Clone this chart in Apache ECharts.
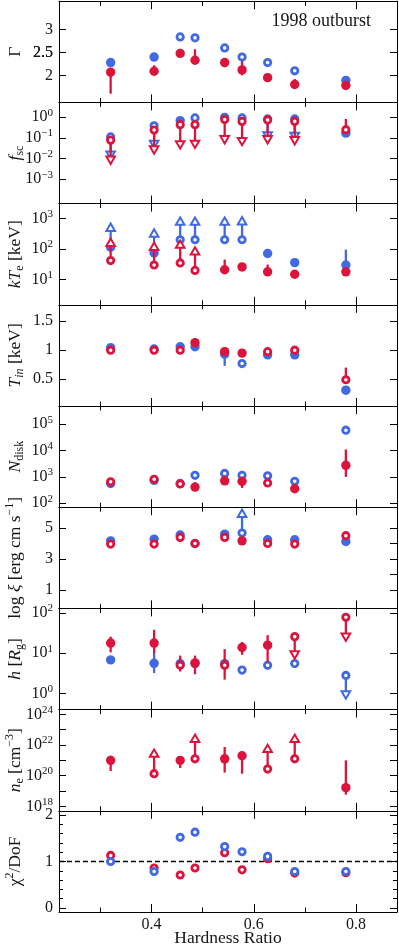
<!DOCTYPE html>
<html><head><meta charset="utf-8">
<script src="https://cdn.jsdelivr.net/npm/echarts@6/dist/echarts.min.js"></script>
<style>html,body{margin:0;padding:0;background:#fff}#c{width:399px;height:945px}</style>
</head><body><div id="c"></div>
<script>
// ---------------- data ----------------
const HR = [0.320, 0.405, 0.456, 0.485, 0.543, 0.577, 0.627, 0.680, 0.780];

// Gamma
const gammaBlue     = [2.28, 2.40, 2.84, 2.82, 2.60, 2.40, 2.28, 2.10, 1.89];
const gammaBlueOpen = [0, 0, 1, 1, 1, 1, 1, 1, 0];
const gammaRed      = [2.07, 2.09, 2.48, 2.33, 2.28, 2.12, 1.95, 1.80, 1.78];
const gammaRedLo    = [1.60, 2.02, 2.43, 2.28, 2.18, 2.00, 1.92, 1.77, 1.76];
const gammaRedHi    = [2.10, 2.22, 2.58, 2.57, 2.31, 2.31, 1.99, 1.92, 1.80];
const gammaRedOpen  = [0, 0, 0, 0, 0, 0, 0, 0, 0];

// f_sc
const fscBlue     = [0.112, 0.389, 0.69, 0.93, 1.0, 0.93, 0.83, 0.83, 0.17];
const fscBlueLim  = [0.0158, 0.052, null, null, null, null, 0.135, 0.126, null];
const fscBlueOpen = [1, 1, 0, 1, 1, 1, 1, 1, 0];
const fscRed      = [0.078, 0.24, 0.44, 0.44, 0.78, 0.63, 0.74, 0.63, 0.25];
const fscRedLim   = [0.0089, 0.028, 0.049, 0.052, 0.087, 0.071, 0.087, 0.078, null];
const fscRedLo    = [null, null, null, null, null, null, null, null, 0.21];
const fscRedHi    = [null, null, null, null, null, null, null, null, 0.83];
const fscRedOpen  = [1, 1, 1, 1, 1, 1, 1, 1, 1];

// kT_e [keV]
const kteBlue     = [115, 74, 200, 200, 200, 200, 71, 36, 30];
const kteBlueLim  = [490, 316, 776, 776, 776, 794, null, null, null];
const kteBlueHi   = [null, null, null, null, null, null, null, null, 95];
const kteBlueOpen = [0, 0, 1, 1, 1, 1, 0, 0, 0];
const kteRed      = [42, 30, 35, 20, 21, 26, 18, 15, 18];
const kteRedLim   = [158, 117, 138, 83, null, null, null, null, null];
const kteRedHi    = [null, null, null, null, 45, null, 31, null, null];
const kteRedOpen  = [1, 1, 1, 1, 0, 0, 0, 0, 0];

// T_in [keV]
const tinBlue     = [1.045, 1.02, 1.06, 1.06, 0.93, 0.77, 0.92, 0.92, 0.31];
const tinBlueLo   = [null, null, null, null, 0.73, null, null, null, null];
const tinBlueOpen = [0, 0, 0, 0, 0, 1, 0, 0, 0];
const tinRed      = [1.0, 1.0, 1.0, 1.13, 0.975, 0.95, 0.975, 1.0, 0.49];
const tinRedLo    = [null, null, null, null, null, null, null, null, 0.45];
const tinRedHi    = [null, null, null, null, 1.04, null, null, null, 0.70];
const tinRedOpen  = [1, 1, 1, 0, 0, 0, 1, 1, 1];

// N_disk
const ndBlue     = [560, 740, 560, 1150, 1350, 1150, 1100, 680, 59000];
const ndBlueHi   = [null, null, null, null, null, null, null, null, 76000];
const ndBlueOpen = [0, 0, 0, 1, 1, 1, 1, 1, 1];
const ndRed      = [650, 810, 540, 410, 710, 680, 590, 355, 2750];
const ndRedLo    = [null, null, null, null, null, 380, null, null, 1000];
const ndRedHi    = [null, null, null, 630, null, null, null, null, 11000];
const ndRedOpen  = [1, 1, 1, 0, 0, 0, 1, 0, 0];

// log xi
const xiBlue     = [4.17, 4.28, 4.54, 4.0, 4.6, 4.67, 4.24, 4.24, 4.13];
const xiBlueLim  = [null, null, null, null, null, 5.9, null, null, null];
const xiBlueOpen = [0, 0, 0, 0, 0, 1, 0, 0, 0];
const xiRed      = [3.96, 3.96, 4.39, 4.0, 4.39, 4.17, 4.0, 3.96, 4.5];
const xiRedLo    = [null, null, null, null, 4.13, null, null, null, null];
const xiRedOpen  = [1, 1, 1, 1, 1, 0, 1, 1, 1];

// h [R_g]
const hBlue     = [6.8, 5.6, 5.5, 5.5, 5.5, 3.8, 5.0, 5.5, 2.8];
const hBlueLo   = [null, 3.2, null, null, null, null, null, null, null];
const hBlueHi   = [null, 10.7, null, null, null, null, null, null, null];
const hBlueLim  = [null, null, null, null, null, null, null, null, 0.95];
const hBlueOpen = [0, 0, 0, 0, 0, 1, 1, 1, 1];
const hRed      = [17.8, 17.8, 5.0, 5.75, 5.0, 13.8, 15.8, 25.7, 77.6];
const hRedLo    = [10.5, 10.0, 3.5, 3.0, 2.2, 9.1, 6.0, null, null];
const hRedHi    = [25.7, 38, 8.7, 8.7, 12.6, 19, 28, null, null];
const hRedLim   = [null, null, null, null, null, null, null, 9.3, 25.7];
const hRedOpen  = [0, 0, 1, 0, 1, 0, 0, 1, 1];

// n_e [cm^-3]
const neRed     = [1.0e21, 1.35e20, 1.0e21, 1.26e21, 1.26e21, 2.0e21, 2.7e20, 1.26e21, 1.66e19];
const neRedLo   = [2.0e20, null, 3.2e20, null, 1.6e20, 1.35e20, null, null, 5.8e18];
const neRedHi   = [2.0e21, null, 1.4e21, null, 7.4e21, 3.2e21, null, null, 1.0e21];
const neRedLim  = [null, 2.7e21, null, 2.5e22, null, null, 5.5e21, 2.5e22, null];
const neRedOpen = [0, 1, 0, 1, 0, 0, 1, 1, 0];

// chi2 / DoF
const chiBlue = [1.0, 0.785, 1.52, 1.63, 1.32, 1.21, 1.11, 0.785, 0.785];
const chiRed  = [1.13, 0.86, 0.71, 0.86, 1.19, 0.82, 1.06, 0.75, 0.76];
const chiOpen = [1, 1, 1, 1, 1, 1, 1, 1, 1];
const chiRef  = 1;

const xMajorTicks = [0.4, 0.6, 0.8];
const xMinorTicks = [0.3, 0.5, 0.7];
const titleText = '1998 outburst';
const xName = 'Hardness Ratio';

// ---------------- styling / layout ----------------
const BLUE = '#4169E1', RED = '#DC143C';
const FONT = '"Liberation Serif", "Times New Roman", serif';
const TXT = '#151515';
const L = 59, W = 338, T0 = 1.2, H = 101.2;
const XMIN = 0.219, XMAX = 0.88;

const lin = v => v, lg = v => Math.log10(v);

const panels = [
  { tf: lin, range: [1.41, 3.62], ticks: [2, 2.5, 3], labels: [2, 2.5, 3], log: false,
    name: '{r|Γ}',
    sets: [{ color: BLUE, y: gammaBlue, open: gammaBlueOpen },
           { color: RED, y: gammaRed, lo: gammaRedLo, hi: gammaRedHi, open: gammaRedOpen }] },
  { tf: lg, range: [-4.18, 0.72], ticks: [-3, -2, -1, 0], labels: [-3, -2, -1, 0], log: true,
    name: '{i|f}{sub|sc}',
    sets: [{ color: BLUE, y: fscBlue, lim: fscBlueLim, open: fscBlueOpen },
           { color: RED, y: fscRed, lim: fscRedLim, lo: fscRedLo, hi: fscRedHi, open: fscRedOpen }] },
  { tf: lg, range: [0.18, 3.48], ticks: [1, 2, 3], labels: [1, 2, 3], log: true,
    name: '{i|kT}{sub|e}{r| [keV]}',
    sets: [{ color: BLUE, y: kteBlue, lim: kteBlueLim, hi: kteBlueHi, open: kteBlueOpen },
           { color: RED, y: kteRed, lim: kteRedLim, hi: kteRedHi, open: kteRedOpen }] },
  { tf: lin, range: [0.037, 1.784], ticks: [0.5, 1, 1.5], labels: [0.5, 1, 1.5], log: false,
    name: '{i|T}{subi|in}{r| [keV]}',
    sets: [{ color: BLUE, y: tinBlue, lo: tinBlueLo, open: tinBlueOpen },
           { color: RED, y: tinRed, lo: tinRedLo, hi: tinRedHi, open: tinRedOpen }] },
  { tf: lg, range: [1.85, 5.69], ticks: [2, 3, 4, 5], labels: [2, 3, 4, 5], log: true,
    name: '{i|N}{sub|disk}',
    sets: [{ color: BLUE, y: ndBlue, hi: ndBlueHi, open: ndBlueOpen },
           { color: RED, y: ndRed, lo: ndRedLo, hi: ndRedHi, open: ndRedOpen }] },
  { tf: lin, range: [-0.17, 6.33], ticks: [1, 2, 3, 4, 5], labels: [1, 2, 3, 4, 5], log: false,
    name: '{r|log }{i|ξ}{r| [erg cm s}{sup|−1}{r|]}',
    sets: [{ color: BLUE, y: xiBlue, lim: xiBlueLim, open: xiBlueOpen },
           { color: RED, y: xiRed, lo: xiRedLo, open: xiRedOpen }] },
  { tf: lg, range: [-0.40, 2.11], ticks: [0, 1, 2], labels: [0, 1, 2], log: true,
    name: '{i|h}{r| [}{i|R}{sub|g}{r|]}',
    sets: [{ color: BLUE, y: hBlue, lo: hBlueLo, hi: hBlueHi, lim: hBlueLim, open: hBlueOpen },
           { color: RED, y: hRed, lo: hRedLo, hi: hRedHi, lim: hRedLim, open: hRedOpen }] },
  { tf: lg, range: [17.71, 24.31], ticks: [18, 19, 20, 21, 22, 23, 24], labels: [18, 20, 22, 24], log: true,
    name: '{i|n}{sub|e}{r| [cm}{sup|−3}{r|]}',
    sets: [{ color: RED, y: neRed, lo: neRedLo, hi: neRedHi, lim: neRedLim, open: neRedOpen }] },
  { tf: lin, range: [-0.086, 2.09], ticks: [0, 1, 2], labels: [0, 1, 2], log: false,
    minor: [0.2, 0.4, 0.6, 0.8, 1.2, 1.4, 1.6, 1.8],
    name: '{r|χ}{sup|2}{r|/DoF}', ref: chiRef,
    sets: [{ color: RED, y: chiRed, open: chiOpen },
           { color: BLUE, y: chiBlue, open: chiOpen }] }
];

const tickRich = {
  b: { fontFamily: FONT, fontSize: 16, color: TXT, lineHeight: 20 },
  s: { fontFamily: FONT, fontSize: 11, color: TXT, lineHeight: 10, verticalAlign: 'top' }
};
const linRich = {
  b: { fontFamily: FONT, fontSize: 16, color: TXT, lineHeight: 14 }
};
const nameRich = {
  r:    { fontFamily: FONT, fontSize: 17.5, color: TXT, lineHeight: 22 },
  i:    { fontFamily: FONT, fontSize: 17.5, color: TXT, lineHeight: 22, fontStyle: 'italic' },
  sub:  { fontFamily: FONT, fontSize: 12, color: TXT, lineHeight: 10, verticalAlign: 'bottom' },
  subi: { fontFamily: FONT, fontSize: 12, color: TXT, lineHeight: 10, verticalAlign: 'bottom', fontStyle: 'italic' },
  sup:  { fontFamily: FONT, fontSize: 12, color: TXT, lineHeight: 10, verticalAlign: 'top' }
};

function expStr(v) { const n = Math.round(v); return n < 0 ? '−' + (-n) : String(n); }

function makeRender(set, tf) {
  const color = set.color;
  return function (params, api) {
    const i = params.dataIndex;
    const x = HR[i];
    const ch = [];
    const seg = (a, b) => {
      const p1 = api.coord([x, tf(a)]), p2 = api.coord([x, tf(b)]);
      ch.push({ type: 'line', shape: { x1: p1[0], y1: p1[1], x2: p2[0], y2: p2[1] },
                style: { stroke: color, lineWidth: 2.3 } });
    };
    if (set.lo && set.lo[i] != null) seg(set.lo[i], set.y[i]);
    if (set.hi && set.hi[i] != null) seg(set.y[i], set.hi[i]);
    if (set.lim && set.lim[i] != null) {
      seg(set.y[i], set.lim[i]);
      const e = api.coord([x, tf(set.lim[i])]);
      const d = set.lim[i] > set.y[i] ? -1 : 1;
      const s = 4.3;
      ch.push({ type: 'polygon',
        shape: { points: [[e[0], e[1] + d * s], [e[0] + s, e[1] - d * s * 0.72], [e[0] - s, e[1] - d * s * 0.72]] },
        style: { fill: '#fff', stroke: color, lineWidth: 2 } });
    }
    const c = api.coord([x, tf(set.y[i])]);
    if (set.open[i]) ch.push({ type: 'circle', shape: { cx: c[0], cy: c[1], r: 3.2 }, style: { fill: '#fff', stroke: color, lineWidth: 2.8 } });
    else ch.push({ type: 'circle', shape: { cx: c[0], cy: c[1], r: 4.7 }, style: { fill: color } });
    return { type: 'group', children: ch };
  };
}

const grids = [], xAxis = [], yAxis = [], series = [];
const lineStyle = { color: '#000', width: 1 };
const mainY = [];

panels.forEach((p, k) => {
  const last = k === panels.length - 1;
  grids.push({ left: L, width: W, top: T0 + H * k, height: H, containLabel: false, outerBoundsMode: 'none' });
  const xBase = { gridIndex: k, type: 'value', min: XMIN, max: XMAX, splitLine: { show: false } };
  const xMain = xAxis.length;
  xAxis.push(Object.assign({}, xBase, {
    position: 'bottom', axisLine: { show: true, onZero: false, lineStyle },
    axisTick: { show: true, inside: true, length: 8, customValues: xMajorTicks, lineStyle },
    axisLabel: { show: last, customValues: xMajorTicks, margin: 6, hideOverlap: false,
      formatter: v => '{b|' + v.toFixed(1) + '}', rich: linRich },
    name: last ? xName : '', nameLocation: 'middle', nameGap: 17, nameMoveOverlap: false,
    nameTextStyle: { fontFamily: FONT, fontSize: 17.5, color: TXT, lineHeight: 18 }
  }));
  xAxis.push(Object.assign({}, xBase, {
    position: 'top', axisLine: { show: true, onZero: false, lineStyle },
    axisTick: { show: true, inside: true, length: 8, customValues: xMajorTicks, lineStyle },
    axisLabel: { show: false }
  }));
  ['bottom', 'top'].forEach(pos => xAxis.push(Object.assign({}, xBase, {
    position: pos, axisLine: { show: false, onZero: false },
    axisTick: { show: true, inside: true, length: 4.5, customValues: xMinorTicks, lineStyle },
    axisLabel: { show: false }
  })));

  const yBase = { gridIndex: k, type: 'value', min: p.range[0], max: p.range[1], splitLine: { show: false } };
  const fmt = p.log ? (v => '{b|10}{s|' + expStr(v) + '}') : (v => '{b|' + (+v.toFixed(2)) + '}');
  const richSel = p.log ? tickRich : linRich;
  const yMain = yAxis.length;
  mainY.push(yMain);
  yAxis.push(Object.assign({}, yBase, {
    position: 'left', axisLine: { show: true, onZero: false, lineStyle },
    axisTick: { show: true, inside: true, length: 7, customValues: p.ticks, lineStyle },
    axisLabel: { show: true, customValues: p.labels, margin: 6, hideOverlap: false,
      showMinLabel: true, showMaxLabel: true, rich: richSel, formatter: fmt },
    name: p.name, nameLocation: 'middle', nameRotate: 90, nameGap: 33, nameMoveOverlap: false,
    nameTextStyle: { fontFamily: FONT, fontSize: 17.5, color: TXT, rich: nameRich }
  }));
  yAxis.push(Object.assign({}, yBase, {
    position: 'right', axisLine: { show: true, onZero: false, lineStyle },
    axisTick: { show: true, inside: true, length: 7, customValues: p.ticks, lineStyle },
    axisLabel: { show: false }
  }));
  if (p.minor) {
    ['left', 'right'].forEach(pos => yAxis.push(Object.assign({}, yBase, {
      position: pos, axisLine: { show: false, onZero: false },
      axisTick: { show: true, inside: true, length: 4, customValues: p.minor, lineStyle },
      axisLabel: { show: false }
    })));
  }

  p.sets.forEach((set, si) => {
    const s = {
      type: 'custom', xAxisIndex: xMain, yAxisIndex: yMain, z: 3 + si, silent: true,
      data: HR.map((x, i) => [x, p.tf(set.y[i])]),
      encode: { x: 0, y: 1 },
      renderItem: makeRender(set, p.tf),
      clip: false
    };
    if (p.ref != null && si === 0) {
      s.markLine = { silent: true, symbol: ['none', 'none'], z: 1, label: { show: false },
        lineStyle: { color: '#000', type: [5, 3], width: 1.4 },
        data: [{ yAxis: p.tf(p.ref) }] };
    }
    series.push(s);
  });
});

const chart = echarts.init(document.getElementById('c'), null, { renderer: 'canvas' });
chart.setOption({
  animation: false,
  backgroundColor: '#fff',
  title: { text: titleText, right: 28, top: 12, padding: 0,
    textStyle: { fontFamily: FONT, fontSize: 18, fontWeight: 'normal', color: TXT } },
  grid: grids, xAxis, yAxis, series
});

// Safety overlay for the intermediate Γ tick label, placed through the axis scale
const p0 = panels[0];
const extra = p0.labels.filter((v, i) => i % 2 === 1).map(v => {
  const py = chart.convertToPixel({ yAxisIndex: mainY[0] }, p0.tf(v));
  return { type: 'text', z: 100, silent: true, x: L - 6, y: py,
    style: { text: String(v), fontFamily: FONT, fontSize: 16, fill: TXT, align: 'right', verticalAlign: 'middle' } };
});
chart.setOption({ graphic: extra });
</script>
</body></html>
